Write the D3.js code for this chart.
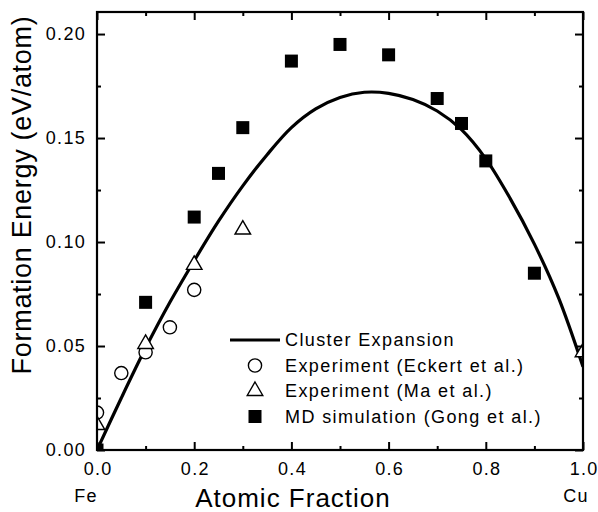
<!DOCTYPE html>
<html>
<head>
<meta charset="utf-8">
<script src="https://cdn.jsdelivr.net/npm/d3@7"></script>
<style>
  body { margin: 0; background: #fff; }
  text { font-family: Arial, "Liberation Sans", sans-serif; fill: #000; }
</style>
</head>
<body>
<svg width="598" height="512"></svg>
<script>
// cluster expansion curve
var ceX = [0, 0.05, 0.1, 0.15, 0.2, 0.25, 0.3, 0.35, 0.4, 0.45, 0.5, 0.55, 0.6, 0.65, 0.7, 0.75, 0.8, 0.85, 0.9, 0.95, 1.0];
var ceY = [0, 0.025, 0.049, 0.071, 0.091, 0.110, 0.127, 0.142, 0.155, 0.164, 0.1695, 0.172, 0.1715, 0.1685, 0.163, 0.154, 0.140, 0.121, 0.099, 0.073, 0.040];

// Experiment (Eckert et al.)
var eckertX = [0.0, 0.05, 0.1, 0.15, 0.2];
var eckertY = [0.018, 0.037, 0.047, 0.059, 0.077];

// Experiment (Ma et al.)
var maX = [0.0, 0.1, 0.2, 0.3, 1.0];
var maY = [0.012, 0.051, 0.089, 0.106, 0.047];

// MD simulation (Gong et al.)
var gongX = [0.0, 0.1, 0.2, 0.25, 0.3, 0.4, 0.5, 0.6, 0.7, 0.75, 0.8, 0.9];
var gongY = [0.0, 0.071, 0.112, 0.133, 0.155, 0.187, 0.195, 0.190, 0.169, 0.157, 0.139, 0.085];

var xTicks = [0, 0.2, 0.4, 0.6, 0.8, 1.0];
var yTicks = [0, 0.05, 0.10, 0.15, 0.20];
var legendLabels = ["Cluster Expansion", "Experiment (Eckert et al.)", "Experiment (Ma et al.)", "MD simulation (Gong et al.)"];

var svg = d3.select("svg"),
    pLeft = 97, pRight = 583, pTop = 12, pBottom = 450;

var x = d3.scaleLinear().domain([0, 1]).range([pLeft, pRight]);
var y = d3.scaleLinear().domain([0, 0.2106]).range([pBottom, pTop]);

svg.append("defs").append("clipPath").attr("id", "plotclip")
  .append("rect")
    .attr("x", pLeft).attr("y", pTop)
    .attr("width", pRight - pLeft).attr("height", pBottom - pTop);

var plot = svg.append("g").attr("clip-path", "url(#plotclip)");

// curve
var line = d3.line()
    .x(function(d) { return x(d[0]); })
    .y(function(d) { return y(d[1]); })
    .curve(d3.curveCatmullRom);

plot.append("path")
    .datum(d3.zip(ceX, ceY))
    .attr("d", line)
    .attr("fill", "none")
    .attr("stroke", "#000")
    .attr("stroke-width", 3.2);

// markers
var triSym = d3.symbol().type(d3.symbolTriangle).size(105);

plot.selectAll(".eckert")
  .data(d3.zip(eckertX, eckertY))
  .enter().append("circle")
    .attr("class", "eckert")
    .attr("cx", function(d) { return x(d[0]); })
    .attr("cy", function(d) { return y(d[1]); })
    .attr("r", 6.6)
    .attr("fill", "#fff")
    .attr("stroke", "#000")
    .attr("stroke-width", 1.4);

plot.selectAll(".ma")
  .data(d3.zip(maX, maY))
  .enter().append("path")
    .attr("class", "ma")
    .attr("d", triSym)
    .attr("transform", function(d) { return "translate(" + x(d[0]) + "," + y(d[1]) + ")"; })
    .attr("fill", "#fff")
    .attr("stroke", "#000")
    .attr("stroke-width", 1.4);

plot.selectAll(".gong")
  .data(d3.zip(gongX, gongY))
  .enter().append("rect")
    .attr("class", "gong")
    .attr("x", function(d) { return x(d[0]) - 6.5; })
    .attr("y", function(d) { return y(d[1]) - 6.5; })
    .attr("width", 13)
    .attr("height", 13)
    .attr("fill", "#000");

// axes: ticks inward on all four sides
var majorLen = 8, minorLen = 4;
var xMinor = [0.1, 0.3, 0.5, 0.7, 0.9];
var yMinor = [0.025, 0.075, 0.125, 0.175];

function tickAxis(axisFn, scale, ticks, len, tx, showLabels, fmt) {
  var g = svg.append("g").attr("transform", tx)
    .call(axisFn(scale).tickValues(ticks).tickSize(-len).tickPadding(showLabels ? 12 : 0)
      .tickFormat(showLabels ? d3.format(fmt) : ""));
  g.select(".domain").remove();
  g.selectAll(".tick line").attr("stroke", "#000").attr("stroke-width", 2);
  g.selectAll(".tick text")
      .attr("font-size", 18)
      .attr("letter-spacing", "1.3px")
      .attr("font-family", "Arial, 'Liberation Sans', sans-serif");
  return g;
}

tickAxis(d3.axisBottom, x, xTicks, majorLen, "translate(0," + pBottom + ")", true, ".1f")
  .selectAll(".tick text").attr("dx", "0.6");
tickAxis(d3.axisBottom, x, xMinor, minorLen, "translate(0," + pBottom + ")", false);
tickAxis(d3.axisTop, x, xTicks, majorLen, "translate(0," + pTop + ")", false);
tickAxis(d3.axisTop, x, xMinor, minorLen, "translate(0," + pTop + ")", false);
tickAxis(d3.axisLeft, y, yTicks, majorLen, "translate(" + pLeft + ",0)", true, ".2f")
  .selectAll(".tick text").attr("dx", "1");
tickAxis(d3.axisLeft, y, yMinor, minorLen, "translate(" + pLeft + ",0)", false);
tickAxis(d3.axisRight, y, yTicks, majorLen, "translate(" + pRight + ",0)", false);
tickAxis(d3.axisRight, y, yMinor, minorLen, "translate(" + pRight + ",0)", false);

svg.append("rect")
    .attr("x", pLeft).attr("y", pTop)
    .attr("width", pRight - pLeft).attr("height", pBottom - pTop)
    .attr("fill", "none")
    .attr("stroke", "#000")
    .attr("stroke-width", 2.2);

// axis titles
svg.append("text")
    .attr("x", 293).attr("y", 507)
    .attr("text-anchor", "middle")
    .attr("font-size", 26)
    .attr("letter-spacing", "1px")
    .text("Atomic Fraction");

svg.append("text")
    .attr("x", 86).attr("y", 502)
    .attr("text-anchor", "middle")
    .attr("font-size", 18)
    .attr("letter-spacing", "1.3px")
    .text("Fe");

svg.append("text")
    .attr("x", 576).attr("y", 502)
    .attr("text-anchor", "middle")
    .attr("font-size", 18)
    .attr("letter-spacing", "1.3px")
    .text("Cu");

svg.append("text")
    .attr("transform", "translate(31,195) rotate(-90)")
    .attr("text-anchor", "middle")
    .attr("font-size", 27)
    .attr("letter-spacing", "0.7px")
    .text("Formation Energy (eV/atom)");

// legend
var legend = svg.append("g");
var rowY = function(i) { return 340 + i * 25.5; };

legend.append("line")
    .attr("x1", 230).attr("x2", 280)
    .attr("y1", rowY(0)).attr("y2", rowY(0))
    .attr("stroke", "#000").attr("stroke-width", 3.2);

legend.append("circle")
    .attr("cx", 255).attr("cy", rowY(1)).attr("r", 6.6)
    .attr("fill", "#fff").attr("stroke", "#000").attr("stroke-width", 1.4);

legend.append("path")
    .attr("d", triSym)
    .attr("transform", "translate(255," + rowY(2) + ")")
    .attr("fill", "#fff").attr("stroke", "#000").attr("stroke-width", 1.4);

legend.append("rect")
    .attr("x", 255 - 6.5).attr("y", rowY(3) - 6.5)
    .attr("width", 13).attr("height", 13)
    .attr("fill", "#000");

legend.selectAll(".lab")
  .data(legendLabels)
  .enter().append("text")
    .attr("class", "lab")
    .attr("x", 285)
    .attr("y", function(d, i) { return rowY(i); })
    .attr("dy", "0.35em")
    .attr("font-size", 18)
    .attr("letter-spacing", "1.4px")
    .text(function(d) { return d; });
</script>
</body>
</html>
